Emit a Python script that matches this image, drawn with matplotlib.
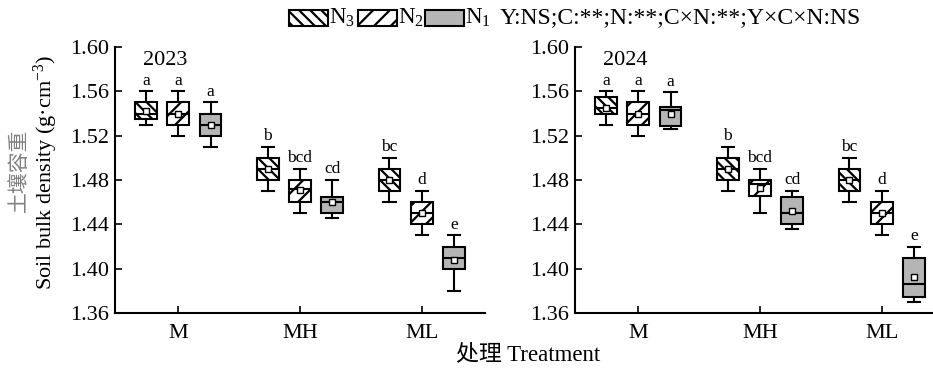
import matplotlib
matplotlib.use('Agg')
import matplotlib.pyplot as plt
from matplotlib.patches import Rectangle

plt.rcParams['font.family'] = ['Liberation Serif', 'Noto Sans CJK SC']
plt.rcParams['mathtext.fontset'] = 'custom'
plt.rcParams['mathtext.rm'] = 'Liberation Serif'
plt.rcParams['mathtext.it'] = 'Liberation Serif:italic'
plt.rcParams['hatch.linewidth'] = 1.6

# treatments on x, nitrogen levels inside each group
treatments = ['M', 'MH', 'ML']
n_levels = ['N3', 'N2', 'N1']
years = ['2023', '2024']

# box stats per year, order: M(N3,N2,N1), MH(N3,N2,N1), ML(N3,N2,N1)
whishi_2023 = [1.56, 1.56, 1.55, 1.51, 1.49, 1.48, 1.50, 1.47, 1.43]
q3_2023 = [1.55, 1.55, 1.54, 1.50, 1.48, 1.465, 1.49, 1.46, 1.42]
med_2023 = [1.54, 1.54, 1.53, 1.49, 1.472, 1.46, 1.48, 1.45, 1.41]
q1_2023 = [1.535, 1.53, 1.52, 1.48, 1.46, 1.45, 1.47, 1.44, 1.40]
whislo_2023 = [1.53, 1.52, 1.51, 1.47, 1.45, 1.446, 1.46, 1.43, 1.38]
mean_2023 = [1.542, 1.54, 1.53, 1.49, 1.471, 1.46, 1.48, 1.45, 1.408]
letters_2023 = ['a', 'a', 'a', 'b', 'bcd', 'cd', 'bc', 'd', 'e']

whishi_2024 = [1.56, 1.56, 1.559, 1.51, 1.49, 1.47, 1.50, 1.47, 1.42]
q3_2024 = [1.555, 1.55, 1.546, 1.50, 1.48, 1.465, 1.49, 1.46, 1.41]
med_2024 = [1.545, 1.54, 1.543, 1.49, 1.476, 1.45, 1.48, 1.45, 1.3865]
q1_2024 = [1.54, 1.53, 1.529, 1.48, 1.466, 1.44, 1.47, 1.44, 1.3745]
whislo_2024 = [1.53, 1.52, 1.526, 1.47, 1.45, 1.436, 1.46, 1.43, 1.37]
mean_2024 = [1.545, 1.54, 1.540, 1.49, 1.473, 1.452, 1.48, 1.45, 1.3925]
letters_2024 = ['a', 'a', 'a', 'b', 'bcd', 'cd', 'bc', 'd', 'e']

stats_text = 'Y:NS;C:**;N:**;C×N:**;Y×C×N:NS'

hatches = {'N3': '\\\\\\', 'N2': '//', 'N1': ''}
faces = {'N3': 'white', 'N2': 'white', 'N1': '#b5b5b5'}
offsets = [-0.265, 0.0, 0.265]

data = {
    '2023': (whishi_2023, q3_2023, med_2023, q1_2023, whislo_2023, mean_2023, letters_2023),
    '2024': (whishi_2024, q3_2024, med_2024, q1_2024, whislo_2024, mean_2024, letters_2024),
}

W, H = 933, 368
fig = plt.figure(figsize=(W / 100, H / 100), dpi=100)

ax_left = [115, 575]
ax_w = 370
bottom_px, top_px = 313, 47

for k, year in enumerate(years):
    ax = fig.add_axes([ax_left[k] / W, 1 - bottom_px / H, ax_w / W, (bottom_px - top_px) / H])
    hi, q3, med, q1, lo, mn, lets = data[year]
    for i, t in enumerate(treatments):
        for j, n in enumerate(n_levels):
            idx = i * 3 + j
            st = dict(med=med[idx], q1=q1[idx], q3=q3[idx], whislo=lo[idx], whishi=hi[idx],
                      mean=mn[idx], fliers=[])
            pos = i + 1 + offsets[j]
            ax.bxp([st], positions=[pos], widths=0.18, patch_artist=True, showmeans=True,
                   showfliers=False, manage_ticks=False,
                   boxprops=dict(linewidth=1.5, edgecolor='black', facecolor=faces[n], hatch=hatches[n]),
                   medianprops=dict(color='black', linewidth=1.5),
                   whiskerprops=dict(color='black', linewidth=1.5),
                   capprops=dict(color='black', linewidth=1.5),
                   capwidths=0.1,
                   meanprops=dict(marker='s', markersize=4, markerfacecolor='white',
                                  markeredgecolor='black', markeredgewidth=1.0))
            ax.annotate(lets[idx], (pos, hi[idx]), xytext=(0, 2), textcoords='offset points',
                        ha='center', va='bottom', fontsize=12.5)

    ax.set_xlim(0.48, 3.52)
    ax.set_ylim(1.36, 1.60)
    ax.set_yticks([1.36, 1.40, 1.44, 1.48, 1.52, 1.56, 1.60])
    ax.set_yticklabels([f'{v:.2f}' for v in [1.36, 1.40, 1.44, 1.48, 1.52, 1.56, 1.60]])
    ax.set_xticks([1, 2, 3])
    ax.set_xticklabels(treatments)
    ax.tick_params(direction='in', length=5, width=1.2, labelsize=16)
    ax.tick_params(axis='y', pad=4)
    ax.tick_params(axis='x', pad=8)
    for s in ['top', 'right']:
        ax.spines[s].set_visible(False)
    for s in ['left', 'bottom']:
        ax.spines[s].set_linewidth(1.5)
    ax.text(0.135, 0.95, year, transform=ax.transAxes, ha='center', va='center', fontsize=16)

# y label (two lines, Chinese part in grey)
fig.text(19 / W, 1 - 170 / H, '土壤容重', rotation=90, ha='center', va='center',
         fontsize=15, color='#808080', family=['Noto Sans CJK SC'])
fig.text(46 / W, 1 - 172 / H, 'Soil bulk density (g·cm$^{-3}$)', rotation=90,
         ha='center', va='center', fontsize=16)

# x label
fig.text(528 / W, 1 - 355 / H, '处理 Treatment', ha='center', va='center', fontsize=16.5)

# legend drawn at the top
leg_y = 18
patch_h = 16
leg = [('N3', 289, '$\\mathrm{N}_3$'), ('N2', 358, '$\\mathrm{N}_2$'), ('N1', 425, '$\\mathrm{N}_1$')]
for n, x0, lab in leg:
    r = Rectangle((x0 / W, 1 - (leg_y + patch_h / 2) / H), 39 / W, patch_h / H,
                  transform=fig.transFigure, facecolor=faces[n], edgecolor='black',
                  hatch=hatches[n], linewidth=1.5)
    fig.patches.append(r)
    fig.text((x0 + 40) / W, 1 - leg_y / H, lab, ha='left', va='center', fontsize=16.5)
fig.text(500 / W, 1 - leg_y / H, stats_text, ha='left', va='center', fontsize=17)

fig.savefig('out.png', dpi=100)
